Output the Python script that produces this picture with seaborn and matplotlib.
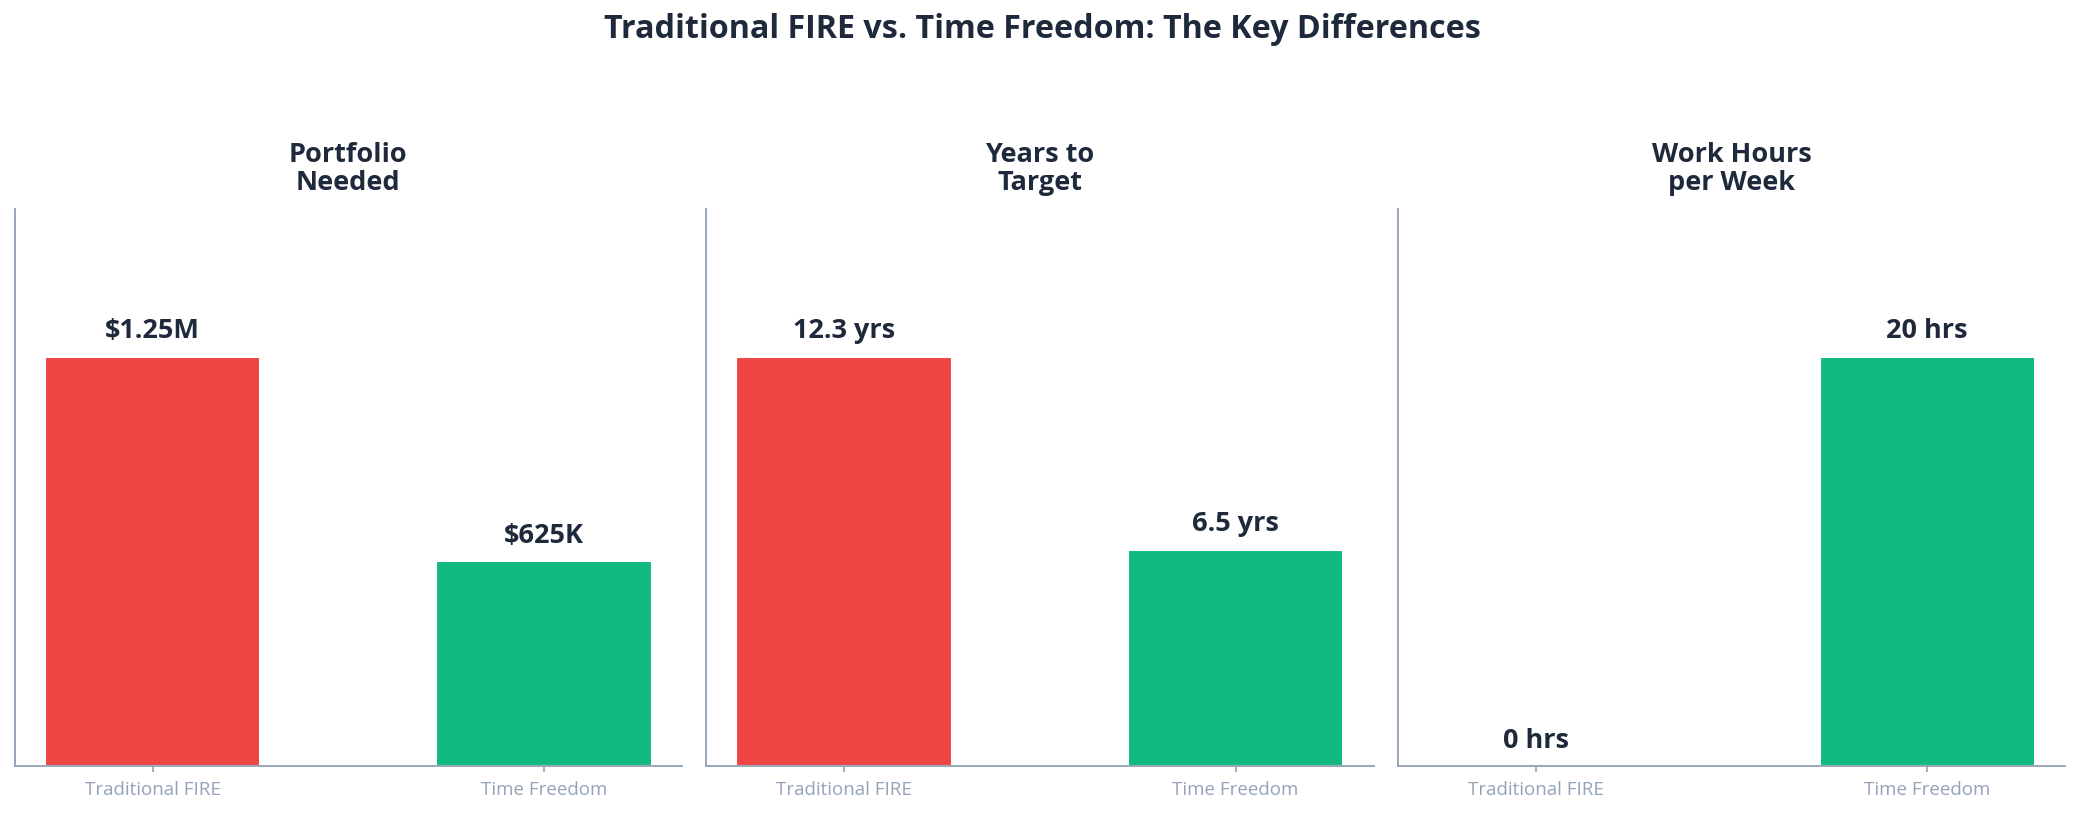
import seaborn as sns
import matplotlib.pyplot as plt
import pandas as pd

# data
categories = ["Traditional FIRE", "Time Freedom"]
panel_titles = ["Portfolio\nNeeded", "Years to\nTarget", "Work Hours\nper Week"]
portfolio = [1.25, 0.625]          # millions
years = [12.3, 6.5]
hours = [0, 20]
portfolio_labels = ["$1.25M", "$625K"]
years_labels = ["12.3 yrs", "6.5 yrs"]
hours_labels = ["0 hrs", "20 hrs"]

colors = ["#EF4444", "#10B981"]
dark = "#1E293B"
grey = "#94A3B8"

sns.set_style("white")
plt.rcParams['font.family'] = ['Open Sans', 'DejaVu Sans']

fig, axes = plt.subplots(1, 3, figsize=(13.9, 5.427), dpi=150)
fig.subplots_adjust(left=0.007, right=0.9905, bottom=0.059, top=0.743, wspace=0.036)

panels = [(portfolio, portfolio_labels), (years, years_labels), (hours, hours_labels)]
w = 0.55
for ax, title, (vals, labels) in zip(axes, panel_titles, panels):
    df = pd.DataFrame({"cat": categories, "val": vals})
    sns.barplot(data=df, x="cat", y="val", hue="cat", palette=colors,
                width=w, legend=False, ax=ax, saturation=1)
    top = max(vals)
    for i, (v, lab) in enumerate(zip(vals, labels)):
        ax.text(i, v + top * 0.03, lab, ha='center', va='bottom',
                fontsize=13, fontweight='bold', color=dark)
    ax.set_ylim(0, top * 1.36)
    m = 0.05 * (1 + w)
    ax.set_xlim(-w / 2 - m, 1 + w / 2 + m)
    ax.set_title(title, fontsize=13, fontweight='bold', color=dark, pad=9,
                 linespacing=1.1)
    ax.set_xlabel("")
    ax.set_ylabel("")
    ax.set_yticks([])
    for s in ["top", "right"]:
        ax.spines[s].set_visible(False)
    for s in ["left", "bottom"]:
        ax.spines[s].set_color(grey)
        ax.spines[s].set_linewidth(0.9)
    ax.tick_params(axis='x', colors=grey, labelsize=9, length=3, width=0.8,
                   pad=4, bottom=True)

fig.suptitle("Traditional FIRE vs. Time Freedom: The Key Differences",
             fontsize=15.5, fontweight='bold', color=dark, y=0.964, va='center')

fig.savefig("out.png", dpi=150, facecolor="white")
